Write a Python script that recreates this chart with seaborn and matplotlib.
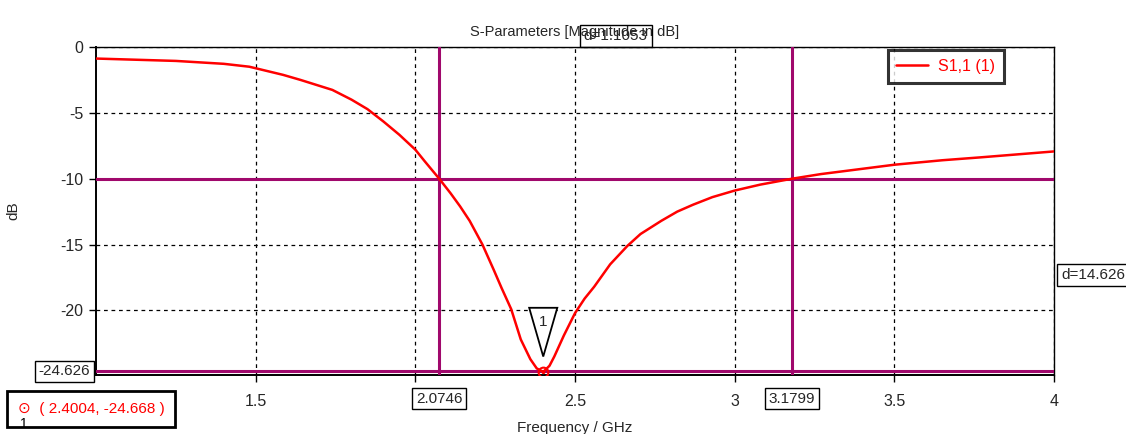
import numpy as np
import pandas as pd
import seaborn as sns
import matplotlib.pyplot as plt
from matplotlib.patches import Polygon

# S1,1 magnitude
freq = [1.00, 1.25, 1.40, 1.48, 1.586, 1.64, 1.74, 1.80, 1.85, 1.90, 1.95, 2.00, 2.03,
        2.0746, 2.11, 2.14, 2.17, 2.21, 2.245, 2.27, 2.30, 2.33, 2.36, 2.38, 2.4004,
        2.42, 2.435, 2.465, 2.50, 2.53, 2.56, 2.61, 2.664, 2.705, 2.77, 2.82, 2.87,
        2.93, 3.00, 3.08, 3.1799, 3.27, 3.50, 3.65, 3.77, 4.00]
s11 = [-0.88, -1.06, -1.28, -1.50, -2.12, -2.50, -3.26, -4.0, -4.72, -5.66, -6.67, -7.80, -8.7,
       -10.0, -11.1, -12.1, -13.2, -15.0, -16.9, -18.3, -19.9, -22.2, -23.7, -24.4, -24.668,
       -24.2, -23.5, -21.9, -20.2, -19.1, -18.2, -16.5, -15.1, -14.2, -13.2, -12.5, -11.97,
       -11.4, -10.9, -10.45, -10.0, -9.65, -8.94, -8.6, -8.38, -7.93]

xticks = [1.5, 2, 2.5, 3, 3.5, 4]
xticklabels = ['1.5', '', '2.5', '3', '3.5', '4']
yticks = [0, -5, -10, -15, -20]

f_lo, f_hi = 2.0746, 3.1799
level = -10.0
min_level = -24.626
marker_f, marker_db = 2.4004, -24.668

purple = '#a0086c'

df = pd.DataFrame({'Frequency / GHz': freq, 'dB': s11})

sns.set_style('white')
plt.rcParams['font.family'] = ['Liberation Sans', 'DejaVu Sans']
plt.rcParams['axes.unicode_minus'] = False

fig = plt.figure(figsize=(11.26, 4.34), dpi=100)
ax = fig.add_axes([0.0853, 0.136, 0.8508, 0.7558])

# marker lines
ax.axvline(f_lo, color=purple, lw=2.2, zorder=3)
ax.axvline(f_hi, color=purple, lw=2.2, zorder=3)
ax.axhline(level, color=purple, lw=2.2, zorder=3)
ax.axhline(min_level, color=purple, lw=2.2, zorder=3)

sns.lineplot(data=df, x='Frequency / GHz', y='dB', color='red', lw=1.8,
             label='S1,1 (1)', ax=ax, zorder=4)

ax.plot([marker_f], [marker_db], 'o', ms=7, mfc='none', mec='red', mew=1.5, zorder=6)
ax.plot([marker_f], [marker_db], '.', ms=3, color='red', zorder=6)

# marker flag
tri = Polygon([(marker_f - 0.044, -19.8), (marker_f + 0.044, -19.8), (marker_f, -23.5)],
              closed=True, fc='white', ec='black', lw=1.3, zorder=7)
ax.add_patch(tri)
ax.text(marker_f, -20.9, '1', ha='center', va='center', fontsize=11, zorder=8)

ax.set_xlim(1, 4)
ax.set_ylim(-24.9, 0)
ax.set_xticks(xticks)
ax.set_xticklabels(xticklabels)
ax.set_yticks(yticks)
ax.tick_params(axis='both', direction='out', length=5, width=1, color='black',
               labelsize=11.5, bottom=True, left=True)
ax.tick_params(axis='x', pad=9)
ax.tick_params(axis='y', pad=4)
ax.grid(True, color='black', ls=(0, (3, 3)), lw=0.9)
for side in ['left', 'bottom']:
    ax.spines[side].set_linewidth(1.4)
for side in ['top', 'right']:
    ax.spines[side].set_linewidth(1.0)
for sp in ax.spines.values():
    sp.set_color('black')

ax.set_title('S-Parameters [Magnitude in dB]', fontsize=10.5, pad=8)
ax.set_xlabel('Frequency / GHz', fontsize=11, labelpad=8)
ax.set_ylabel('dB', fontsize=11)
ax.yaxis.set_label_coords(-0.079, 0.5)

leg = ax.legend(loc='upper left', bbox_to_anchor=(0.818, 1.015), frameon=True,
                fancybox=False, fontsize=11.5, handlelength=2.0, borderpad=0.55,
                handletextpad=0.6, labelcolor='red')
leg.get_frame().set_edgecolor('black')
leg.get_frame().set_linewidth(2.2)
leg.set_zorder(10)

box = dict(boxstyle='square,pad=0.25', fc='white', ec='black', lw=1)
# value labels on the axes
ax.annotate(f'{min_level:.3f}', xy=(0, min_level), xycoords=('axes fraction', 'data'),
            xytext=(-4, 0), textcoords='offset points', ha='right', va='center',
            fontsize=11, bbox=box, zorder=10, annotation_clip=False)
for fv in [f_lo, f_hi]:
    ax.annotate(f'{fv:.4f}', xy=(fv, 0), xycoords=('data', 'axes fraction'),
                xytext=(0, -17), textcoords='offset points', ha='center', va='center',
                fontsize=11, bbox=box, zorder=10, annotation_clip=False)
ax.annotate(f'd={f_hi - f_lo:.4f}', xy=((f_lo + f_hi) / 2, 1), xycoords=('data', 'axes fraction'),
            xytext=(0, 8), textcoords='offset points', ha='center', va='center',
            fontsize=11, bbox=dict(boxstyle='square,pad=0.25', fc='none', ec='black', lw=1),
            zorder=10, annotation_clip=False)
ax.annotate(f'd={level - min_level:.3f}', xy=(1, (level + min_level) / 2),
            xycoords=('axes fraction', 'data'), xytext=(5, 0), textcoords='offset points',
            ha='left', va='center', fontsize=11, bbox=box, zorder=10, annotation_clip=False)

# marker readout
fig.text(0.016, 0.058, f'\u2299  ( {marker_f:.4f}, {marker_db:.3f} )', color='red',
         fontsize=11, va='center', ha='left',
         bbox=dict(boxstyle='square,pad=0.7', fc='white', ec='black', lw=2))
fig.text(0.018, 0.024, '1', color='black', fontsize=10, va='center', ha='left')

fig.savefig('out.png', dpi=100)
